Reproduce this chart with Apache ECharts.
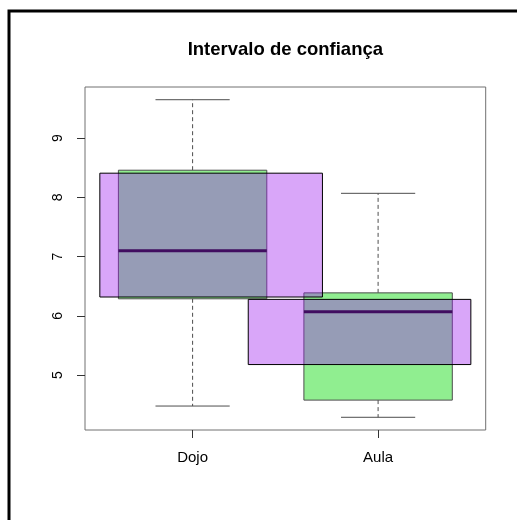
<!DOCTYPE html>
<html>
<head>
<meta charset="utf-8">
<title>Intervalo de confiança</title>
<script src="https://cdn.jsdelivr.net/npm/echarts@6/dist/echarts.min.js"></script>
<style>
  html, body { margin: 0; padding: 0; background: #fff; }
  #chart { width: 517px; height: 520px; }
</style>
</head>
<body>
<div id="chart"></div>
<script>
// Groups and five-number summaries
const categories = ['Dojo', 'Aula'];
const whiskerLow = [4.48, 4.29];
const q1 = [6.29, 4.58];
const median = [7.10, 6.07];
const q3 = [8.46, 6.39];
const whiskerHigh = [9.65, 8.07];
// Confidence interval bounds per group
const ciLow = [6.32, 5.18];
const ciHigh = [8.41, 6.28];
// Tick values on the value axis
const yTicks = [5, 6, 7, 8, 9];

const FONT = "'Liberation Sans', Arial, Helvetica, sans-serif";
const LINE = '#4d4d4d';

// axis ranges padded by 4% like a base-graphics plot
const yLo = Math.min(...whiskerLow), yHi = Math.max(...whiskerHigh);
const yPad = 0.04 * (yHi - yLo);
const xLo = 0.5, xHi = categories.length + 0.5;
const xPad = 0.04 * (xHi - xLo);

const BOX_HALF = 0.4, CAP_HALF = 0.2, CI_HALF = 0.6, CI_SHIFT = 0.1;

const idx = categories.map((c, i) => i);

const GRID = { left: 85, right: 31.3, top: 87, bottom: 90 };
const plotCenterX = GRID.left + (517 - GRID.left - GRID.right) / 2;

const chart = echarts.init(document.getElementById('chart'));
chart.setOption({
  animation: false,
  backgroundColor: '#fff',
  graphic: [
    {
      type: 'rect',
      shape: { x: 9, y: 11, width: 800, height: 800 },
      style: { fill: 'none', stroke: '#000', lineWidth: 3 },
      silent: true
    },
    {
      // chart title, centred over the plotting region
      type: 'text',
      x: plotCenterX,
      y: 50,
      style: {
        text: 'Intervalo de confiança',
        fontFamily: FONT, fontSize: 18.5, fontWeight: 'bold', fill: '#000',
        align: 'center', verticalAlign: 'middle'
      },
      silent: true
    }
  ],
  grid: Object.assign({
    show: true, borderColor: '#707070', borderWidth: 1, backgroundColor: 'transparent'
  }, GRID),
  xAxis: {
    type: 'value',
    min: xLo - xPad,
    max: xHi + xPad,
    axisLine: { show: false },
    splitLine: { show: false },
    axisTick: { show: true, customValues: idx.map(i => i + 1), length: 8, lineStyle: { color: '#333' } },
    axisLabel: {
      customValues: idx.map(i => i + 1),
      formatter: v => categories[Math.round(v) - 1],
      fontFamily: FONT, fontSize: 15, color: '#000', margin: 20
    }
  },
  yAxis: {
    type: 'value',
    min: yLo - yPad,
    max: yHi + yPad,
    axisLine: { show: false },
    splitLine: { show: false },
    axisTick: { show: true, customValues: yTicks, length: 8, lineStyle: { color: '#333' } },
    axisLabel: {
      customValues: yTicks,
      rotate: 90,
      fontFamily: FONT, fontSize: 14, color: '#000', margin: 20
    }
  },
  series: [
    {
      // box-and-whisker per group
      type: 'custom',
      z: 2,
      data: idx.map(i => [i + 1, whiskerLow[i], q1[i], median[i], q3[i], whiskerHigh[i]]),
      encode: { x: 0, y: [1, 2, 3, 4, 5] },
      renderItem: function (params, api) {
        const x = api.value(0);
        const p = k => api.coord([x, api.value(k)]);
        const left = api.coord([x - BOX_HALF, 0])[0];
        const right = api.coord([x + BOX_HALF, 0])[0];
        const capL = api.coord([x - CAP_HALF, 0])[0];
        const capR = api.coord([x + CAP_HALF, 0])[0];
        const cx = p(1)[0];
        const yWL = p(1)[1], yQ1 = p(2)[1], yMed = p(3)[1], yQ3 = p(4)[1], yWH = p(5)[1];
        return {
          type: 'group',
          children: [
            { type: 'line', shape: { x1: cx, y1: yQ3, x2: cx, y2: yWH },
              style: { stroke: LINE, lineWidth: 1, lineDash: [4, 3] } },
            { type: 'line', shape: { x1: cx, y1: yQ1, x2: cx, y2: yWL },
              style: { stroke: LINE, lineWidth: 1, lineDash: [4, 3] } },
            { type: 'line', shape: { x1: capL, y1: yWH, x2: capR, y2: yWH },
              style: { stroke: LINE, lineWidth: 1 } },
            { type: 'line', shape: { x1: capL, y1: yWL, x2: capR, y2: yWL },
              style: { stroke: LINE, lineWidth: 1 } },
            { type: 'rect', shape: { x: left, y: yQ3, width: right - left, height: yQ1 - yQ3 },
              style: { fill: '#90EE90', stroke: LINE, lineWidth: 1 } },
            { type: 'line', shape: { x1: left, y1: yMed, x2: right, y2: yMed },
              style: { stroke: '#000', lineWidth: 3 } }
          ]
        };
      }
    },
    {
      // translucent confidence-interval rectangles
      type: 'custom',
      z: 3,
      data: idx.map(i => [i + 1, ciLow[i], ciHigh[i]]),
      encode: { x: 0, y: [1, 2] },
      renderItem: function (params, api) {
        const x = api.value(0);
        const n = categories.length;
        const shift = x < (n + 1) / 2 ? CI_SHIFT : -CI_SHIFT;
        const lo = api.coord([x + shift - CI_HALF, api.value(1)]);
        const hi = api.coord([x + shift + CI_HALF, api.value(2)]);
        return {
          type: 'rect',
          shape: { x: lo[0], y: hi[1], width: hi[0] - lo[0], height: lo[1] - hi[1] },
          style: { fill: 'rgba(160,32,240,0.4)', stroke: '#000', lineWidth: 1 }
        };
      }
    }
  ]
});
</script>
</body>
</html>
